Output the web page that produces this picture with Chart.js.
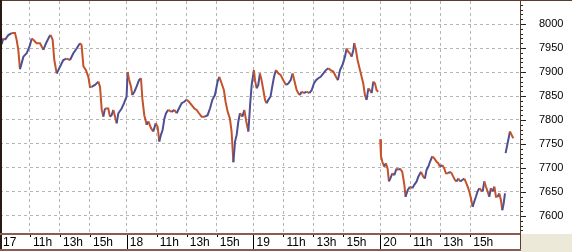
<!DOCTYPE html>
<html>
<head>
<meta charset="utf-8">
<script src="https://cdn.jsdelivr.net/npm/chart.js@4.4.0/dist/chart.umd.min.js"></script>
<style>
  html, body { margin: 0; padding: 0; background: #fff; }
  #chart { display: block; }
</style>
</head>
<body>
<canvas id="chart" width="572" height="252"></canvas>
<script>
// x = trading-clock hours since the 17th at 09:00 (one session ~ 8.45 h)
const times = [
  0.03, 0.11, 0.22, 0.33, 0.56, 0.78, 1.0, 1.11, 1.22, 1.33, 1.44, 1.56, 1.78, 2.0, 2.11, 2.22, 2.44, 2.67, 2.89, 3.07,
  3.29, 3.38, 3.51, 3.62, 3.78, 3.89, 4.0, 4.22, 4.44, 4.67, 4.89, 5.11, 5.33, 5.44, 5.56, 5.73, 5.89, 6.0, 6.11, 6.33,
  6.56, 6.67, 6.78, 6.89, 7.0, 7.22, 7.33, 7.44, 7.56, 7.67, 7.78, 7.89, 8.11, 8.27, 8.44,
  8.51, 8.6, 8.73, 8.82, 8.96, 9.11, 9.27, 9.4, 9.49, 9.62, 9.78, 9.89, 10.07, 10.22, 10.38, 10.51, 10.62, 10.73, 10.84, 10.96,
  11.07, 11.22, 11.44, 11.62, 11.78, 11.93, 12.11, 12.29, 12.44, 12.6, 12.78, 12.96, 13.11, 13.27, 13.44, 13.67, 13.84, 14.0, 14.16, 14.33,
  14.51, 14.62, 14.78, 14.93, 15.04, 15.18, 15.33, 15.44, 15.56, 15.67, 15.78, 15.89, 16.0, 16.16, 16.29, 16.42, 16.56, 16.69, 16.78,
  16.93, 17.0, 17.11, 17.22, 17.33, 17.44, 17.56, 17.67, 17.78, 17.89, 18.04, 18.13, 18.27, 18.4, 18.56, 18.71, 18.89, 19.07, 19.22, 19.38,
  19.51, 19.62, 19.78, 19.89, 20.0, 20.11, 20.27, 20.44, 20.62, 20.78, 20.93, 21.07, 21.22, 21.38, 21.56, 21.73, 21.89, 22.04, 22.22, 22.4,
  22.53, 22.67, 22.84, 23.0, 23.11, 23.22, 23.33, 23.44, 23.56, 23.62, 23.73, 23.84, 24.0, 24.11, 24.22, 24.33, 24.44, 24.56, 24.67, 24.78,
  24.89, 25.0, 25.11, 25.22, 25.3,
  25.35, 25.4, 25.49, 25.62, 25.73, 25.84, 25.93, 26.02, 26.16, 26.29, 26.44, 26.56, 26.67, 26.82, 26.96, 27.04, 27.18, 27.33, 27.49, 27.62,
  27.78, 27.89, 28.07, 28.22, 28.33, 28.44, 28.56, 28.67, 28.82, 28.96, 29.11, 29.22, 29.33, 29.49, 29.62, 29.73, 29.89, 30.0, 30.11, 30.22,
  30.33, 30.44, 30.56, 30.69, 30.82, 30.96, 31.04, 31.18, 31.29, 31.4, 31.51, 31.62, 31.73, 31.84, 31.96, 32.07, 32.18, 32.29, 32.4, 32.51,
  32.62, 32.73, 32.84, 32.96, 33.07, 33.18, 33.29, 33.4, 33.49, 33.58, 33.67, 33.69,
  33.71, 33.84, 34.0, 34.11, 34.22
];

const prices = [
  7990, 7958, 7970, 7967, 7977, 7981, 7981, 7967, 7946, 7906, 7918, 7932, 7939, 7956, 7970, 7967, 7960, 7960, 7946, 7960,
  7974, 7977, 7967, 7925, 7897, 7904, 7911, 7925, 7928, 7925, 7939, 7949, 7960, 7956, 7912, 7904, 7890, 7869, 7869, 7873,
  7880, 7869, 7822, 7807, 7824, 7824, 7807, 7810, 7821, 7807, 7793, 7814, 7824, 7835, 7849,
  7900, 7885, 7870, 7852, 7859, 7870, 7883, 7887, 7845, 7810, 7790, 7797, 7783, 7776, 7793, 7786, 7755, 7769, 7779, 7803,
  7814, 7821, 7817, 7821, 7814, 7824, 7835, 7838, 7842, 7838, 7831, 7824, 7821, 7814, 7807, 7807, 7810, 7824, 7842, 7852,
  7880, 7890, 7876, 7862, 7838, 7817, 7803, 7776, 7712, 7755, 7769, 7797, 7814, 7807, 7821, 7797, 7776, 7838, 7873,
  7904, 7883, 7866, 7873, 7897, 7883, 7862, 7842, 7835, 7842, 7849, 7866, 7890, 7904, 7897, 7894, 7883, 7873, 7876, 7883,
  7897, 7883, 7862, 7856, 7852, 7859, 7856, 7859, 7856, 7862, 7876, 7883, 7887, 7890, 7897, 7904, 7908, 7904, 7901, 7890,
  7883, 7904, 7915, 7932, 7949, 7942, 7939, 7932, 7946, 7960, 7946, 7925, 7904, 7890, 7876, 7852, 7842, 7866, 7862, 7856,
  7880, 7876, 7862, 7859, null,
  7760, 7725, 7713, 7703, 7710, 7699, 7672, 7678, 7689, 7685, 7699, 7696, 7699, 7692, 7665, 7640, 7654, 7661, 7658, 7665,
  7672, 7682, 7692, 7682, 7678, 7696, 7703, 7713, 7724, 7720, 7713, 7710, 7703, 7706, 7699, 7689, 7689, 7692, 7689, 7682,
  7675, 7672, 7678, 7672, 7675, 7678, 7672, 7661, 7651, 7637, 7619, 7630, 7640, 7651, 7658, 7654, 7651, 7672, 7661, 7651,
  7640, 7658, 7651, 7661, 7640, 7640, 7647, 7633, 7612, 7626, 7647, null,
  7731, 7751, 7776, 7769, 7762
];

const xTickValues = [0, 2, 4, 6, 8.45, 10.45, 12.45, 14.45, 16.9, 18.9, 20.9, 22.9, 25.35, 27.35, 29.35, 31.35];
const xTickLabels = ['17', '11h', '13h', '15h', '18', '11h', '13h', '15h', '19', '11h', '13h', '15h', '20', '11h', '13h', '15h'];
const yTickValues = [7600, 7650, 7700, 7750, 7800, 7850, 7900, 7950, 8000];

const RISE = '#4f4f93';
const FALL = '#c4532b';
const FRAME = '#5b3b30';
const STRIP = '#8c5c54';

const framePlugin = {
  id: 'frame',
  beforeDraw(chart) {
    const { ctx, chartArea: a, width, height } = chart;
    ctx.save();
    ctx.fillStyle = '#ffffff';
    ctx.fillRect(0, 0, width, height);
    ctx.fillStyle = '#ece9d8';
    ctx.fillRect(a.right + 1, a.bottom + 1, width - a.right, height - a.bottom);
    ctx.restore();
  },
  afterDraw(chart) {
    const { ctx, chartArea: a, width, scales } = chart;
    const x = scales.x;
    const y = scales.y;
    ctx.save();
    ctx.lineWidth = 1;

    // ticks in the time strip: full height at day starts, short for hours
    ctx.strokeStyle = '#000';
    xTickValues.forEach((v, i) => {
      const px = Math.round(x.getPixelForValue(v)) + 0.5;
      ctx.beginPath();
      ctx.moveTo(px, a.bottom);
      ctx.lineTo(px, i % 4 === 0 ? 249 : a.bottom + 4);
      ctx.stroke();
    });

    // minor / major ticks on the price axis
    ctx.strokeStyle = '#222';
    for (let v = 7570; v <= 8040; v += 10) {
      const py = Math.round(y.getPixelForValue(v)) + 0.5;
      ctx.beginPath();
      ctx.moveTo(a.right, py);
      ctx.lineTo(a.right + (v % 50 === 0 ? 6 : 3), py);
      ctx.stroke();
    }

    // frame
    ctx.strokeStyle = FRAME;
    ctx.beginPath();
    ctx.moveTo(0, 0.5);
    ctx.lineTo(width, 0.5);
    ctx.moveTo(a.right + 0.5, 0);
    ctx.lineTo(a.right + 0.5, 250);
    ctx.stroke();
    ctx.lineWidth = 2;
    ctx.strokeStyle = '#2a1a14';
    ctx.beginPath();
    ctx.moveTo(1, 0);
    ctx.lineTo(1, 250);
    ctx.stroke();

    ctx.strokeStyle = STRIP;
    ctx.beginPath();
    ctx.moveTo(0, a.bottom + 1);
    ctx.lineTo(a.right, a.bottom + 1);
    ctx.moveTo(0, 250);
    ctx.lineTo(a.right + 1, 250);
    ctx.stroke();
    ctx.restore();
  }
};

new Chart(document.getElementById('chart'), {
  type: 'line',
  data: {
    datasets: [
      {
        data: times.map((t, i) => ({ x: t, y: prices[i] })),
        borderColor: FALL,
        borderWidth: 2,
        pointRadius: 0,
        tension: 0,
        spanGaps: false,
        segment: {
          borderColor: (c) => (c.p1.parsed.y > c.p0.parsed.y ? RISE : FALL),
        },
      },
    ],
  },
  options: {
    responsive: false,
    animation: false,
    events: [],
    layout: { padding: { top: 1, left: 0, right: 0, bottom: 0 } },
    plugins: { legend: { display: false }, tooltip: { enabled: false } },
    scales: {
      x: {
        type: 'linear',
        min: 0,
        max: 34.67,
        afterBuildTicks: (s) => {
          s.ticks = xTickValues.map((v) => ({ value: v }));
        },
        afterFit: (s) => {
          s.height = 19;
          s.paddingLeft = 0;
          s.paddingRight = 0;
        },
        ticks: {
          autoSkip: false,
          maxRotation: 0,
          align: 'start',
          labelOffset: 3,
          padding: 2,
          color: '#000',
          font: { family: "'Liberation Sans', Arial, sans-serif", size: 12 },
          callback: (v, i) => xTickLabels[i],
        },
        grid: { color: '#b4b4b4', drawTicks: false, lineWidth: 1 },
        border: { display: false, dash: [3, 3] },
      },
      y: {
        position: 'right',
        min: 7564.58,
        max: 8047.92,
        afterBuildTicks: (s) => {
          s.ticks = yTickValues.map((v) => ({ value: v }));
        },
        afterFit: (s) => {
          s.width = 52;
          s.paddingTop = 0;
          s.paddingBottom = 0;
        },
        ticks: {
          padding: 19,
          color: '#000',
          font: { family: "'Liberation Sans', Arial, sans-serif", size: 11 },
          callback: (v) => String(v),
        },
        grid: { color: '#b4b4b4', drawTicks: false, lineWidth: 1 },
        border: { display: false, dash: [3, 3] },
      },
    },
  },
  plugins: [framePlugin],
});
</script>
</body>
</html>
